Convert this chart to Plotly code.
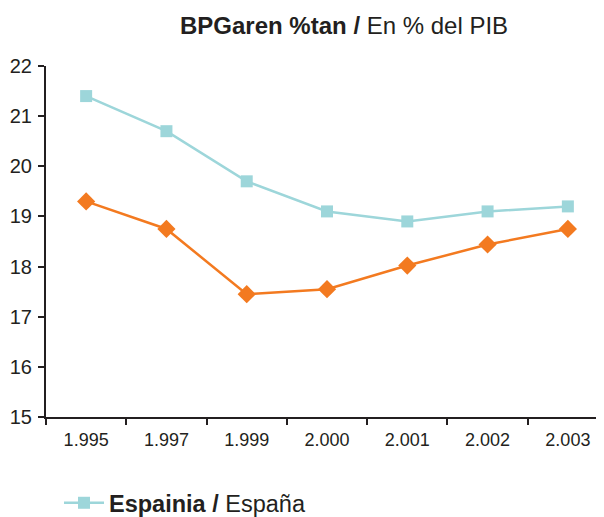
import plotly.graph_objects as go

years = ["1.995", "1.997", "1.999", "2.000", "2.001", "2.002", "2.003"]
espania = [21.4, 20.7, 19.7, 19.1, 18.9, 19.1, 19.2]
euskadi = [19.3, 18.75, 17.45, 17.55, 18.02, 18.44, 18.75]
y_ticks = [15, 16, 17, 18, 19, 20, 21, 22]

fig = go.Figure()
fig.add_trace(go.Scatter(
    x=years, y=espania, mode="lines+markers",
    name="<b>Espainia /</b> España",
    line=dict(color="#9DD6DA", width=2.5),
    marker=dict(symbol="square", size=12, color="#9DD6DA"),
))
fig.add_trace(go.Scatter(
    x=years, y=euskadi, mode="lines+markers",
    name="EAE / CAE", showlegend=False,
    line=dict(color="#F37A20", width=2.5),
    marker=dict(symbol="diamond", size=14, color="#F37A20"),
))

fig.update_layout(
    width=604, height=517,
    margin=dict(l=38, r=8, t=58, b=108, autoexpand=False),
    paper_bgcolor="white", plot_bgcolor="white",
    font=dict(family="Liberation Sans, Arial, sans-serif", color="#231F20"),
    showlegend=True,
    legend=dict(orientation="h", x=13 / 558, xanchor="left", y=-0.245, yanchor="middle",
                font=dict(size=23.5, color="#231F20"), itemwidth=40),
    annotations=[dict(
        text="<b>BPGaren %tan /</b> En % del PIB",
        xref="paper", yref="paper", x=(344 - 46) / 558, y=1.0, yanchor="bottom",
        yshift=25, showarrow=False, font=dict(size=24, color="#231F20"),
    )],
)
fig.update_xaxes(
    type="category", range=[-0.5, 6.45], showgrid=False, automargin=False,
    showline=True, linecolor="#231F20", linewidth=2,
    ticks="outside", tickson="boundaries", ticklen=6, tickwidth=2, tickcolor="#231F20",
    tickfont=dict(size=18, color="#231F20"), ticklabelstandoff=5,
)
fig.update_yaxes(
    range=[15, 22], tickvals=y_ticks, showgrid=False, zeroline=False, automargin=False,
    showline=True, linecolor="#231F20", linewidth=2,
    ticks="outside", ticklen=6, tickwidth=2, tickcolor="#231F20",
    tickfont=dict(size=20, color="#231F20"), ticklabelstandoff=2,
)

fig.write_html("out.html")
